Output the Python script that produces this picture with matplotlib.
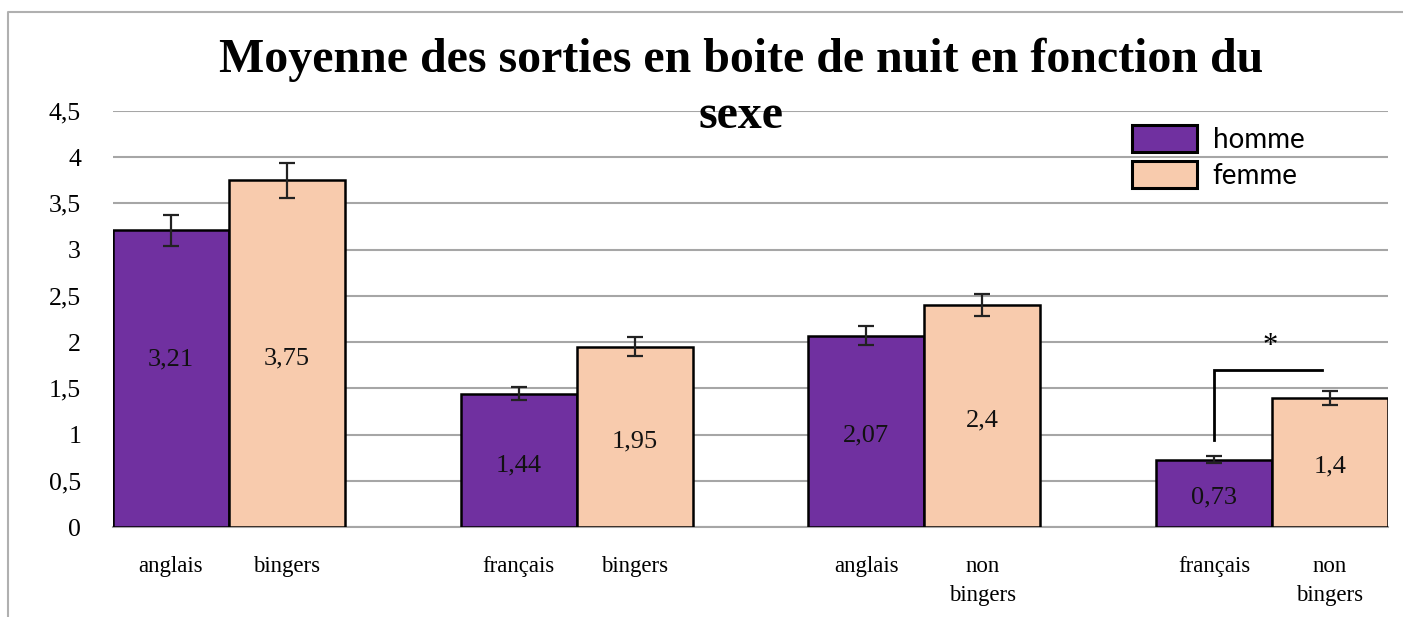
import matplotlib
matplotlib.use('Agg')
import matplotlib.pyplot as plt
import numpy as np
from matplotlib.patches import Patch
from matplotlib.lines import Line2D

# Données du graphique
labels_barres = ['anglais', 'bingers', 'français', 'bingers',
                 'anglais', 'non\nbingers', 'français', 'non\nbingers']
homme = [3.21, 1.44, 2.07, 0.73]
femme = [3.75, 1.95, 2.4, 1.4]
erreur_homme = [0.17, 0.07, 0.10, 0.04]
erreur_femme = [0.19, 0.10, 0.12, 0.075]
etiquettes_homme = ['3,21', '1,44', '2,07', '0,73']
etiquettes_femme = ['3,75', '1,95', '2,4', '1,4']
y_ticks = [0, 0.5, 1, 1.5, 2, 2.5, 3, 3.5, 4, 4.5]
y_tick_labels = ['0', '0,5', '1', '1,5', '2', '2,5', '3', '3,5', '4', '4,5']
titre = ['Moyenne des sorties en boite de nuit en fonction du', 'sexe']

violet = '#7030A0'
peche = '#F8CBAD'
serif = 'Liberation Serif'

fig = plt.figure(figsize=(14.03, 6.17), dpi=100)
ax = fig.add_axes([113 / 1403, 1 - 527 / 617, (1388 - 113) / 1403, (527 - 111) / 617])

# cadre extérieur du graphique (coupé à droite et en bas)
fig.lines.append(Line2D([8 / 1403, 8 / 1403, 1.01], [-0.01, 1 - 12 / 617, 1 - 12 / 617],
                        transform=fig.transFigure, color='#b0b0b0', linewidth=1.5))

x_homme = np.arange(4) * 3 + 0.5
x_femme = x_homme + 1

ax.bar(x_homme, homme, width=1, color=violet, edgecolor='black', linewidth=1.8, zorder=3)
ax.bar(x_femme, femme, width=1, color=peche, edgecolor='black', linewidth=1.8, zorder=3)
ax.errorbar(x_homme, homme, yerr=erreur_homme, fmt='none', ecolor='#222222',
            elinewidth=1.6, capsize=6, capthick=1.6, zorder=4)
ax.errorbar(x_femme, femme, yerr=erreur_femme, fmt='none', ecolor='#222222',
            elinewidth=1.6, capsize=6, capthick=1.6, zorder=4)

# étiquettes de valeurs au centre des barres
for xs, vals, labs in [(x_homme, homme, etiquettes_homme), (x_femme, femme, etiquettes_femme)]:
    for x, v, t in zip(xs, vals, labs):
        y = v / 2 - 0.05
        if t == '3,21':
            y = 1.81
        ax.text(x, y, t, ha='center', va='center', fontsize=19,
                family=serif, color='#111111', zorder=5)

# accolade de significativité
ax.plot([x_homme[3], x_homme[3], x_homme[3] + 0.93], [0.94, 1.70, 1.70],
        color='black', linewidth=2, zorder=5, solid_joinstyle='miter')
ax.text(x_homme[3] + 0.48, 1.95, '*', ha='center', va='center', fontsize=22,
        family=serif, zorder=5)

ax.set_xlim(0, 11)
ax.set_ylim(0, 4.5)
ax.set_yticks(y_ticks)
ax.set_yticklabels(y_tick_labels, family=serif, fontsize=18.5)
ax.set_xticks(np.concatenate([x_homme, x_femme]))
ax.set_xticklabels([labels_barres[i] for i in [0, 2, 4, 6]] +
                   [labels_barres[i] for i in [1, 3, 5, 7]],
                   family=serif, fontsize=16.5, linespacing=1.5, va='top')
ax.tick_params(axis='y', length=0, pad=23)
ax.tick_params(axis='x', length=0, pad=21)
ax.yaxis.grid(True, color='#a6a6a6', linewidth=1.5, zorder=0)
ax.set_axisbelow(True)
for s in ['top', 'right', 'left']:
    ax.spines[s].set_visible(False)
ax.spines['bottom'].set_color('#a6a6a6')
ax.spines['bottom'].set_linewidth(1.5)

# titre sur deux lignes (texte séparé pour ne pas chevaucher la légende)
fig.text(741 / 1403, 1 - 72 / 617, titre[0], ha='center', va='baseline',
         fontsize=34.5, fontweight='bold', family=serif)
fig.text(741 / 1403, 1 - 128 / 617, titre[1], ha='center', va='baseline',
         fontsize=34.5, fontweight='bold', family=serif)

handles = [Patch(facecolor=violet, edgecolor='black', linewidth=2.2, label='homme'),
           Patch(facecolor=peche, edgecolor='black', linewidth=2.2, label='femme')]
ax.legend(handles=handles, loc='upper left', bbox_to_anchor=(1121 / 1403, 1 - 114 / 617),
          bbox_transform=fig.transFigure, frameon=False,
          prop={'family': 'Lato', 'size': 20}, handlelength=2.35, handleheight=1.1,
          handletextpad=0.55, labelspacing=0.3, borderaxespad=0)

fig.savefig('out.png', dpi=100)
